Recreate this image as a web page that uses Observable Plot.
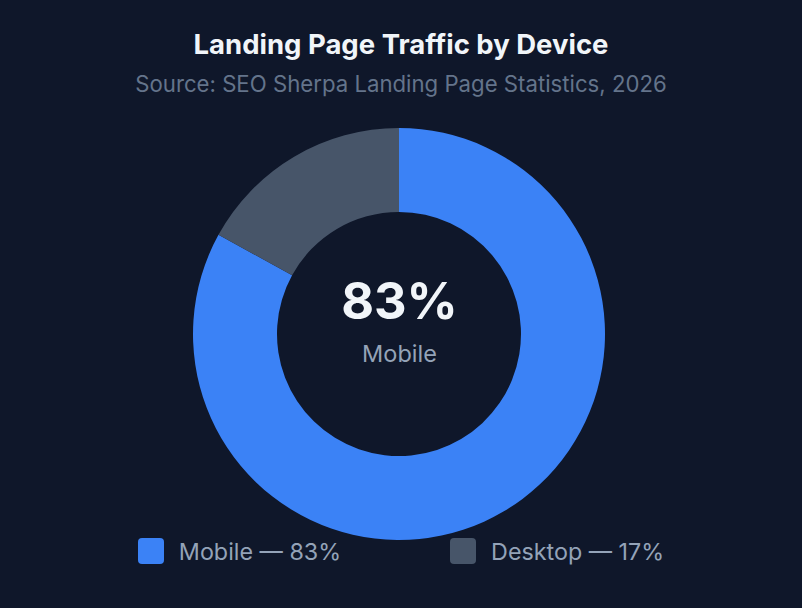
<!DOCTYPE html>
<html><head><meta charset="utf-8">
<script src="https://cdn.jsdelivr.net/npm/d3@7"></script>
<script src="https://cdn.jsdelivr.net/npm/@observablehq/plot@0.6"></script>
<style>
html,body{margin:0;padding:0;background:#0f172a;width:802px;height:608px;overflow:hidden;font-family:Inter,"Noto Sans",sans-serif}
#title{position:absolute;left:0;width:802px;top:28px;text-align:center;font-weight:700;font-size:27.5px;line-height:32px;color:#f1f5f9}
#subtitle{position:absolute;left:0;width:802px;top:70px;text-align:center;font-size:22.2px;line-height:28px;color:#64748b}
#chart{position:absolute;left:0;top:118px}
#legend{position:absolute;left:0;width:802px;top:536px;display:flex;justify-content:center;gap:109px}
.item{display:flex;align-items:center;gap:15px;font-size:23.3px;line-height:26px;color:#94a3b8}
.sw{width:26px;height:26px;border-radius:4px}
.lbl{padding-top:3px}
</style></head>
<body>
<div id="title">Landing Page Traffic by Device</div>
<div id="subtitle">Source: SEO Sherpa Landing Page Statistics, 2026</div>
<div id="chart"></div>
<div id="legend"></div>
<script>
const categories = ["Mobile", "Desktop"];
const shares = [83, 17];
const centerValue = "83%";
const centerLabel = "Mobile";
const colors = ["#3b82f6", "#475569"];

const data = categories.map((c, i) => ({category: c, share: shares[i]}));

const outerR = 206, innerR = 122;

function donut(index, scales, values, dim) {
  const cx = dim.marginLeft + (dim.width - dim.marginLeft - dim.marginRight) / 2;
  const cy = dim.marginTop + (dim.height - dim.marginTop - dim.marginBottom) / 2;
  const pie = d3.pie().sort(null).value(d => d.share)(data);
  const arc = d3.arc().innerRadius(innerR).outerRadius(outerR);
  const g = d3.create("svg:g").attr("transform", `translate(${cx},${cy})`);
  g.selectAll("path").data(pie).join("path")
    .attr("d", arc)
    .attr("fill", d => scales.color(d.data.category));
  return g.node();
}

const plot = Plot.plot({
  width: 802,
  height: 432,
  marginLeft: 0, marginRight: 4, marginTop: 0, marginBottom: 0,
  style: {background: "transparent", fontFamily: "Inter, sans-serif"},
  color: {domain: categories, range: colors},
  x: {axis: null}, y: {axis: null},
  marks: [
    Plot.dot(data, {fill: "category", r: 0}),
    donut,
    Plot.text([centerValue], {text: d => d, frameAnchor: "middle", dy: -32, fontSize: 50.5, fontWeight: 700, fill: "#f1f5f9"}),
    Plot.text([centerLabel], {text: d => d, frameAnchor: "middle", dy: 20, fontSize: 23.5, fill: "#94a3b8"})
  ]
});
document.getElementById("chart").appendChild(plot);

const legend = d3.select("#legend");
data.forEach((d, i) => {
  const it = legend.append("div").attr("class", "item");
  it.append("div").attr("class", "sw").style("background", colors[i]);
  it.append("div").attr("class", "lbl").text(`${d.category} — ${d.share}%`);
});
</script>
</body></html>
